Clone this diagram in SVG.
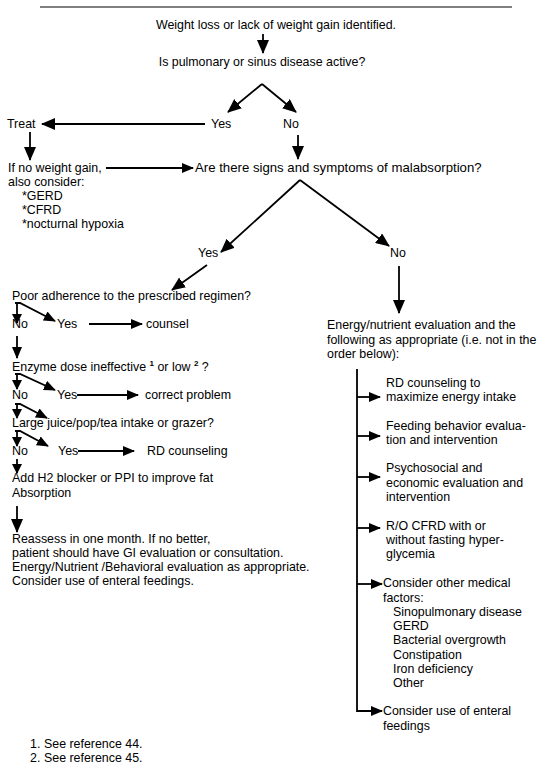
<svg xmlns="http://www.w3.org/2000/svg" width="538" height="773" viewBox="0 0 538 773">
<style>
text{font-family:"Liberation Sans",Arial,sans-serif;font-size:12.4px;fill:#000}
.c{text-anchor:middle}
.ln{stroke:#000;stroke-width:1.8;fill:none}
.sup{font-size:8px;font-weight:bold}
.big{font-size:13.2px}
</style>
<defs>
<marker id="ah" markerUnits="userSpaceOnUse" markerWidth="14" markerHeight="12" refX="13" refY="6" orient="auto" viewBox="0 0 14 12">
<path d="M0,0 L14,6 L0,12 z" fill="#000"/>
</marker>
<marker id="am" markerUnits="userSpaceOnUse" markerWidth="12" markerHeight="10" refX="11" refY="5" orient="auto" viewBox="0 0 12 10">
<path d="M0,0 L12,5 L0,10 z" fill="#000"/>
</marker>
<marker id="as" markerUnits="userSpaceOnUse" markerWidth="10" markerHeight="10" refX="9" refY="5" orient="auto" viewBox="0 0 10 10">
<path d="M0,0 L10,5 L0,10 z" fill="#000"/>
</marker>
</defs>
<line x1="40" y1="7" x2="512" y2="7" stroke="#000" stroke-width="1.2"/>
<g id="connectors">
<line class="ln" x1="263" y1="34" x2="263" y2="53" marker-end="url(#ah)"/>
<line class="ln" x1="262" y1="84" x2="228" y2="112" marker-end="url(#ah)"/>
<line class="ln" x1="262" y1="84" x2="296" y2="112" marker-end="url(#ah)"/>
<line class="ln" x1="205" y1="124" x2="42" y2="124" marker-end="url(#ah)"/>
<line class="ln" x1="30" y1="132" x2="30" y2="160" marker-end="url(#ah)"/>
<line class="ln" x1="298" y1="135" x2="298" y2="159" marker-end="url(#ah)"/>
<line class="ln" x1="106" y1="168" x2="193" y2="168" marker-end="url(#am)"/>
<line class="ln" x1="300" y1="180" x2="221" y2="252" marker-end="url(#ah)"/>
<line class="ln" x1="300" y1="180" x2="389" y2="246" marker-end="url(#ah)"/>
<line class="ln" x1="207" y1="265" x2="172" y2="290" marker-end="url(#ah)"/>
<line class="ln" x1="17" y1="303" x2="17" y2="323" marker-end="url(#as)"/>
<path class="ln" d="M15,303 L20,303 L55,321" marker-end="url(#am)"/>
<line class="ln" x1="89" y1="324" x2="142" y2="324" marker-end="url(#am)"/>
<line class="ln" x1="17" y1="336" x2="17" y2="358" marker-end="url(#am)"/>
<line class="ln" x1="17" y1="374" x2="17" y2="389" marker-end="url(#as)"/>
<path class="ln" d="M15,374 L20,374 L55,390" marker-end="url(#am)"/>
<line class="ln" x1="77" y1="395" x2="138" y2="395" marker-end="url(#am)"/>
<line class="ln" x1="17" y1="404" x2="17" y2="418" marker-end="url(#as)"/>
<path class="ln" d="M15,404 L20,404 L47,418" marker-end="url(#am)"/>
<line class="ln" x1="17" y1="431" x2="17" y2="446" marker-end="url(#as)"/>
<path class="ln" d="M15,431 L20,431 L48,446" marker-end="url(#am)"/>
<line class="ln" x1="78" y1="451" x2="134" y2="451" marker-end="url(#am)"/>
<line class="ln" x1="17" y1="459" x2="17" y2="473" marker-end="url(#as)"/>
<line class="ln" x1="17" y1="506" x2="17" y2="532" marker-end="url(#ah)"/>
<line class="ln" x1="399" y1="266" x2="399" y2="313" marker-end="url(#ah)"/>
<path class="ln" d="M357,369 V711 H382" marker-end="url(#am)"/>
<line class="ln" x1="357" y1="397" x2="380" y2="397" marker-end="url(#am)"/>
<line class="ln" x1="357" y1="436" x2="380" y2="436" marker-end="url(#am)"/>
<line class="ln" x1="357" y1="477" x2="380" y2="477" marker-end="url(#am)"/>
<line class="ln" x1="357" y1="528" x2="380" y2="528" marker-end="url(#am)"/>
<line class="ln" x1="357" y1="584" x2="382" y2="584" marker-end="url(#am)"/>
</g>
<g id="n-start"><text class="c" x="276" y="29">Weight loss or lack of weight gain identified.</text></g>
<g id="n-pulm"><text class="c" x="262" y="66">Is pulmonary or sinus disease active?</text></g>
<g id="n-yes1"><text x="211" y="128">Yes</text></g>
<g id="n-no1"><text x="283" y="128">No</text></g>
<g id="n-treat"><text x="7" y="128">Treat</text></g>
<g id="n-noweight"><text x="8" y="172">If no weight gain,</text><text x="8" y="186">also consider:</text><text x="22" y="200">*GERD</text><text x="22" y="214">*CFRD</text><text x="22" y="228">*nocturnal hypoxia</text></g>
<g id="n-malabs"><text class="big" x="195" y="172">Are there signs and symptoms of malabsorption?</text></g>
<g id="n-yes2"><text x="198" y="257">Yes</text></g>
<g id="n-no2"><text x="390" y="257">No</text></g>
<g id="n-adher"><text x="12" y="300">Poor adherence to the prescribed regimen?</text></g>
<g id="n-adher-no"><text x="12" y="328">No</text></g>
<g id="n-adher-yes"><text x="57" y="328">Yes</text></g>
<g id="n-counsel"><text x="146" y="328">counsel</text></g>
<g id="n-enzyme"><text x="12" y="371">Enzyme dose ineffective <tspan class="sup" dy="-5">1</tspan><tspan dy="5"> or low </tspan><tspan class="sup" dy="-5">2</tspan><tspan dy="5"> ?</tspan></text></g>
<g id="n-enz-no"><text x="12" y="399">No</text></g>
<g id="n-enz-yes"><text x="57" y="399">Yes</text></g>
<g id="n-correct"><text x="145" y="399">correct problem</text></g>
<g id="n-juice"><text x="12" y="427">Large juice/pop/tea intake or grazer?</text></g>
<g id="n-juice-no"><text x="12" y="455">No</text></g>
<g id="n-juice-yes"><text x="58" y="455">Yes</text></g>
<g id="n-rdc"><text x="147" y="455">RD counseling</text></g>
<g id="n-h2"><text x="12" y="482">Add H2 blocker or PPI to improve fat</text><text x="12" y="497">Absorption</text></g>
<g id="n-reassess"><text x="12" y="543">Reassess in one month. If no better,</text><text x="12" y="557">patient should have GI evaluation or consultation.</text><text x="12" y="571">Energy/Nutrient /Behavioral evaluation as appropriate.</text><text x="12" y="585">Consider use of enteral feedings.</text></g>
<g id="n-energy"><text x="327" y="329">Energy/nutrient evaluation and the</text><text x="327" y="344">following as appropriate (i.e. not in the</text><text x="327" y="358">order below):</text></g>
<g id="n-rd"><text x="386" y="387">RD counseling to</text><text x="386" y="401">maximize energy intake</text></g>
<g id="n-feed"><text x="386" y="430">Feeding behavior evalua-</text><text x="386" y="444">tion and intervention</text></g>
<g id="n-psych"><text x="386" y="472">Psychosocial and</text><text x="386" y="487">economic evaluation and</text><text x="386" y="501">intervention</text></g>
<g id="n-cfrd"><text x="386" y="530">R/O CFRD with or</text><text x="386" y="544">without fasting hyper-</text><text x="386" y="558">glycemia</text></g>
<g id="n-other"><text x="383" y="587">Consider other medical</text><text x="383" y="602">factors:</text><text x="393" y="616">Sinopulmonary disease</text><text x="393" y="630">GERD</text><text x="393" y="644">Bacterial overgrowth</text><text x="393" y="659">Constipation</text><text x="393" y="673">Iron deficiency</text><text x="393" y="687">Other</text></g>
<g id="n-enteral"><text x="383" y="715">Consider use of enteral</text><text x="383" y="730">feedings</text></g>
<g id="footnotes"><text x="30" y="748">1.</text><text x="44" y="748">See reference 44.</text><text x="30" y="762">2.</text><text x="44" y="762">See reference 45.</text></g>
</svg>
